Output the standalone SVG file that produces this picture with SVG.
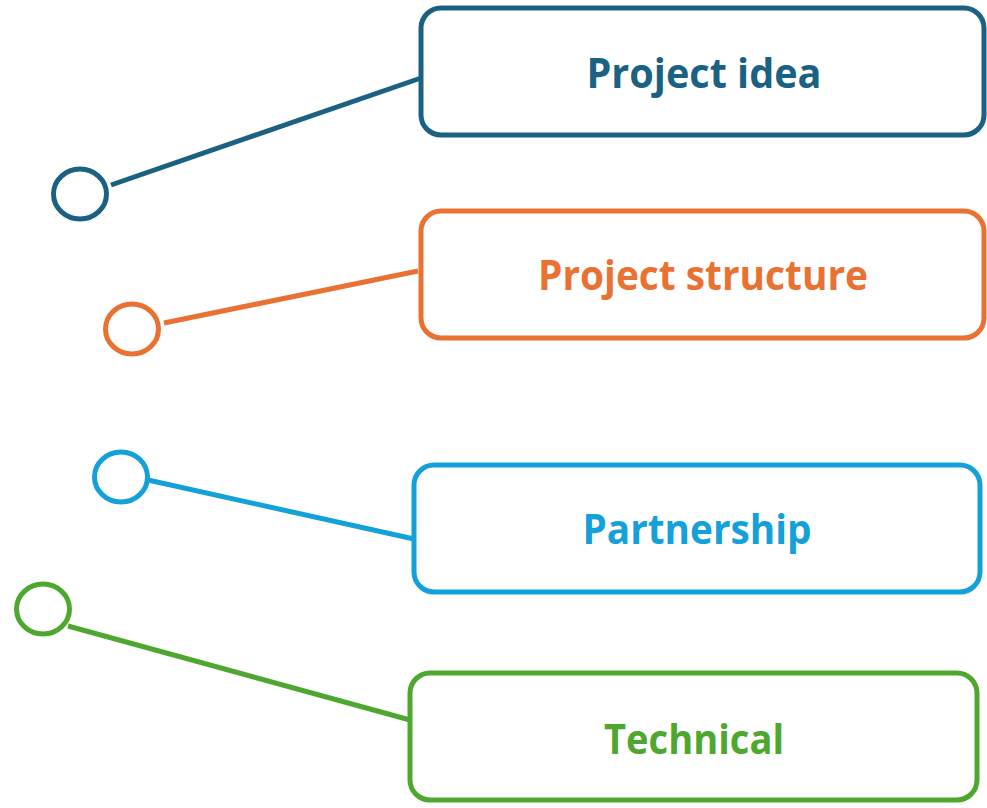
<svg xmlns="http://www.w3.org/2000/svg" width="987" height="808" viewBox="0 0 987 808">
<style>
.box{fill:#fff;stroke-width:5}
.dot{fill:none;stroke-width:5}
.ln{stroke-width:5;fill:none}
.lbl{font-family:"Open Sans","Noto Sans",sans-serif;font-weight:bold;font-size:41px;text-anchor:middle}
.c1{stroke:#1a6183}.t1{fill:#1a6183}
.c2{stroke:#e97132}.t2{fill:#e97132}
.c3{stroke:#14a1da}.t3{fill:#14a1da}
.c4{stroke:#4ea72e}.t4{fill:#4ea72e}
</style>
<rect width="987" height="808" fill="#fff"/>
<g id="connectors">
<line class="ln c1" x1="111" y1="185" x2="421" y2="78"/>
<line class="ln c2" x1="164" y1="323" x2="418" y2="271"/>
<line class="ln c3" x1="148" y1="480" x2="414" y2="539"/>
<line class="ln c4" x1="68" y1="626" x2="410" y2="720"/>
</g>
<g id="dot1"><ellipse class="dot c1" cx="80" cy="194" rx="26.5" ry="25"/></g>
<g id="dot2"><ellipse class="dot c2" cx="132" cy="329" rx="26.5" ry="25"/></g>
<g id="dot3"><ellipse class="dot c3" cx="121" cy="477" rx="26.5" ry="25"/></g>
<g id="dot4"><ellipse class="dot c4" cx="43" cy="609" rx="26.5" ry="25"/></g>
<g id="node1">
<rect class="box c1" x="421" y="8" width="563" height="127" rx="20"/>
<text class="lbl t1" x="704" y="88" textLength="235" lengthAdjust="spacingAndGlyphs">Project idea</text>
</g>
<g id="node2">
<rect class="box c2" x="421" y="211" width="563" height="127" rx="20"/>
<text class="lbl t2" x="703" y="290" textLength="330" lengthAdjust="spacingAndGlyphs">Project structure</text>
</g>
<g id="node3">
<rect class="box c3" x="414" y="465" width="566" height="127" rx="20"/>
<text class="lbl t3" x="697" y="544" textLength="229" lengthAdjust="spacingAndGlyphs">Partnership</text>
</g>
<g id="node4">
<rect class="box c4" x="410" y="673" width="567" height="127" rx="20"/>
<text class="lbl t4" x="694" y="754" textLength="180" lengthAdjust="spacingAndGlyphs">Technical</text>
</g>
</svg>
